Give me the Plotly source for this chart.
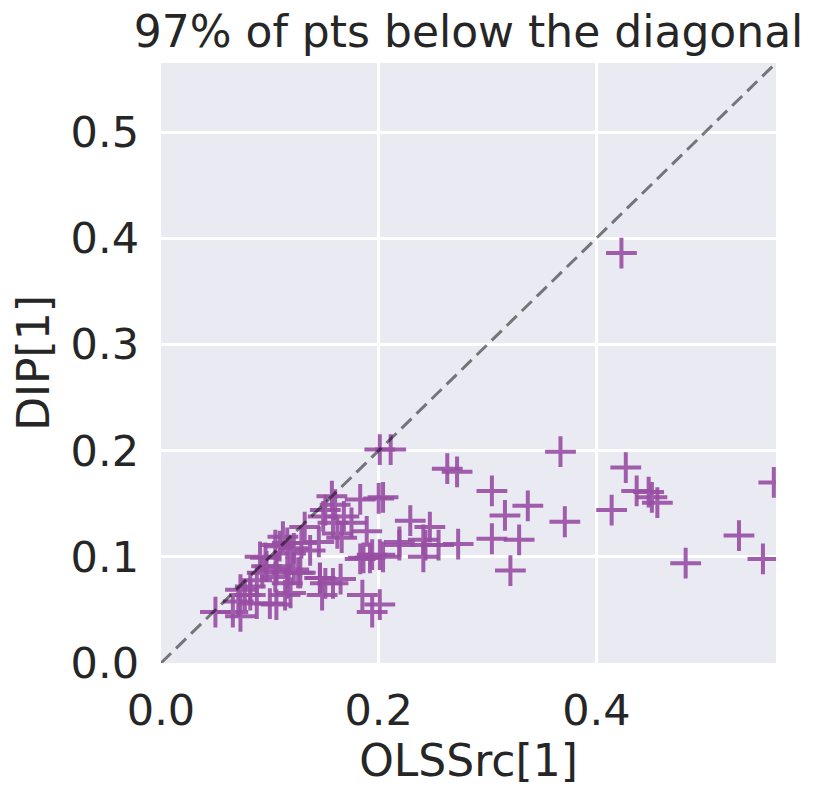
import plotly.graph_objects as go

# OLSSrc[1] vs DIP[1]
ols_x = [0.050, 0.066, 0.073, 0.071, 0.077, 0.073, 0.082, 0.082, 0.088, 0.100,
         0.106, 0.088, 0.093, 0.097, 0.106, 0.105, 0.116, 0.119, 0.091, 0.109,
         0.119, 0.122, 0.096, 0.105, 0.112, 0.116, 0.122, 0.129, 0.132, 0.137,
         0.145, 0.106, 0.126, 0.128, 0.116, 0.114, 0.146, 0.151, 0.148, 0.165,
         0.149, 0.151, 0.157, 0.160, 0.158, 0.168, 0.175, 0.162, 0.183, 0.200,
         0.189, 0.183, 0.192, 0.186, 0.194, 0.201, 0.204, 0.185, 0.201, 0.194,
         0.201, 0.219, 0.211, 0.204, 0.229, 0.219, 0.241, 0.243, 0.247, 0.255,
         0.263, 0.272, 0.273, 0.241, 0.304, 0.304, 0.316, 0.321, 0.329, 0.337,
         0.367, 0.371, 0.414, 0.423, 0.427, 0.437, 0.448, 0.451, 0.456, 0.482,
         0.531, 0.553, 0.563, 0.166, 0.158, 0.146]
dip_y = [0.048, 0.048, 0.044, 0.058, 0.064, 0.069, 0.072, 0.064, 0.056, 0.056,
         0.055, 0.078, 0.085, 0.091, 0.091, 0.081, 0.075, 0.066, 0.100, 0.110,
         0.103, 0.088, 0.099, 0.111, 0.119, 0.113, 0.108, 0.113, 0.128, 0.106,
         0.114, 0.088, 0.085, 0.085, 0.085, 0.064, 0.080, 0.075, 0.064, 0.079,
         0.138, 0.144, 0.157, 0.149, 0.132, 0.138, 0.132, 0.122, 0.154, 0.155,
         0.124, 0.098, 0.099, 0.099, 0.102, 0.102, 0.100, 0.064, 0.055, 0.048,
         0.201, 0.111, 0.201, 0.156, 0.134, 0.114, 0.116, 0.111, 0.128, 0.111,
         0.183, 0.180, 0.112, 0.100, 0.162, 0.117, 0.139, 0.087, 0.116, 0.148,
         0.199, 0.133, 0.144, 0.386, 0.184, 0.162, 0.161, 0.156, 0.151, 0.094,
         0.120, 0.098, 0.170, 0.118, 0.075, 0.080]

x_ticks = [0.0, 0.2, 0.4]
y_ticks = [0.0, 0.1, 0.2, 0.3, 0.4, 0.5]
lim = 0.565

fig = go.Figure()

fig.add_trace(go.Scatter(
    x=ols_x, y=dip_y, mode='markers',
    marker=dict(symbol='cross-thin-open', size=22, color='#984ea3', opacity=0.9,
                line=dict(color='#984ea3', width=4)),
    hoverinfo='skip', showlegend=False))

# diagonal y = x
fig.add_trace(go.Scatter(
    x=[0, lim], y=[0, lim], mode='lines',
    line=dict(color='rgba(0,0,0,0.5)', width=3, dash='14px,7px'),
    hoverinfo='skip', showlegend=False))

txt = dict(family='DejaVu Sans', size=44, color='#262626')
tick_font = dict(family='DejaVu Sans', size=43, color='#262626')

fig.update_layout(
    width=822, height=797,
    margin=dict(l=153, r=54, t=55, b=142),
    paper_bgcolor='white', plot_bgcolor='#EAEAF2',
    font=txt,
    title=dict(text='97% of pts below the diagonal', x=0.5, xanchor='center',
               xref='paper', yref='container', y=0.971, yanchor='middle', font=txt),
)
fig.update_xaxes(range=[0, lim], tickvals=x_ticks, ticktext=[f'{v:.1f}' for v in x_ticks],
                 showgrid=True, gridcolor='white', gridwidth=2.5, zeroline=False,
                 ticks='', ticklabelstandoff=18, tickfont=tick_font,
                 title=dict(text='OLSSrc[1]', font=txt, standoff=2))
fig.update_yaxes(range=[0, lim], tickvals=y_ticks, ticktext=[f'{v:.1f}' for v in y_ticks],
                 showgrid=True, gridcolor='white', gridwidth=2.5, zeroline=False,
                 ticks='', ticklabelstandoff=21, tickfont=tick_font,
                 title=dict(text='DIP[1]', font=txt, standoff=10))

fig.write_html('out.html')
